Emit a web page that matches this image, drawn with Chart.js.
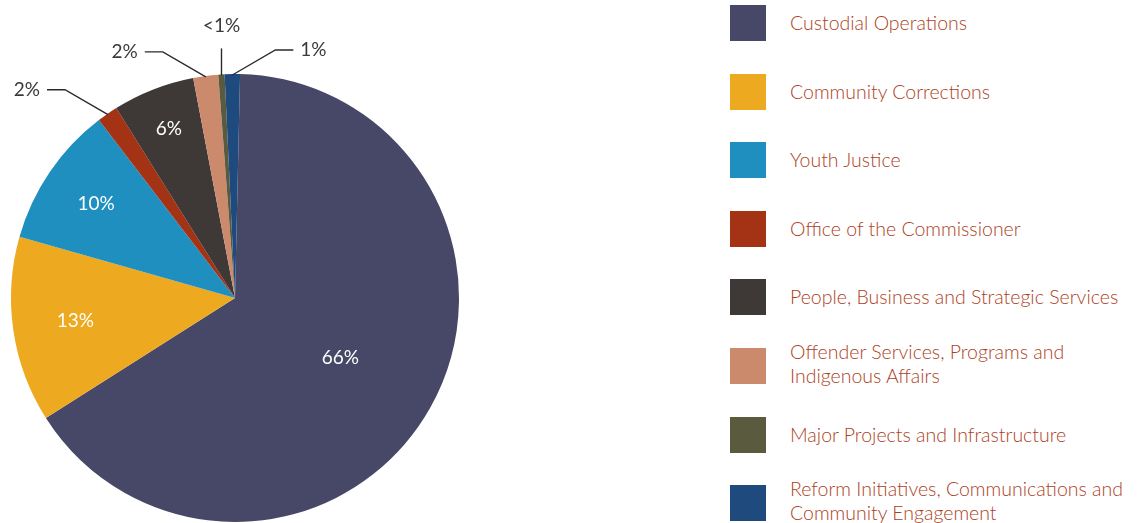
<!DOCTYPE html>
<html>
<head>
<meta charset="utf-8">
<script src="https://cdn.jsdelivr.net/npm/chart.js@4"></script>
<style>
  body { margin: 0; background: #fff; width: 1140px; height: 523px; overflow: hidden; position: relative; }
  #wrap { position: absolute; left: 0; top: 0; width: 470px; height: 523px; }
  #legend { position: absolute; left: 730px; top: 0; }
  .item { position: absolute; left: 0; width: 410px; height: 36px; }
  .sw { position: absolute; left: 0; top: 0; width: 36px; height: 36px; }
  .txt { position: absolute; left: 60px; top: 50%; transform: translateY(-50%);
         font-family: Lato, "Open Sans", sans-serif; font-weight: 300; font-size: 19.5px;
         line-height: 23.5px; color: #ad3f25; white-space: nowrap; }
  .two { margin-top: -3px; }
</style>
</head>
<body>
<div id="wrap"><canvas id="pie"></canvas></div>
<div id="legend"></div>
<script>
// data
var categories = [
  'Custodial Operations',
  'Community Corrections',
  'Youth Justice',
  'Office of the Commissioner',
  'People, Business and Strategic Services',
  'Offender Services, Programs and\nIndigenous Affairs',
  'Major Projects and Infrastructure',
  'Reform Initiatives, Communications and\nCommunity Engagement'
];
var shares = [65.6, 13.4, 10.2, 1.5, 5.9, 1.8, 0.45, 1.1];
var shareLabels = ['66%', '13%', '10%', '2%', '6%', '2%', '<1%', '1%'];

var colours = ['#474867', '#eda91f', '#1f8fc0', '#a43215', '#3e3936', '#cc8a6c', '#5a5a3e', '#1f4a7e'];

// where each value label goes: inside at a fraction of the radius, or out on a leader line
var labelPlace = [
  { pos: 'in', f: 0.54 },
  { pos: 'in', f: 0.72 },
  { pos: 'in', f: 0.75 },
  { pos: 'left' },
  { pos: 'in', f: 0.81 },
  { pos: 'left' },
  { pos: 'up' },
  { pos: 'right' }
];

var labelFont = '400 19px Lato, "Open Sans", sans-serif';

// legend built from the same arrays
var legend = document.getElementById('legend');
categories.forEach(function(name, i) {
  var item = document.createElement('div');
  item.className = 'item';
  item.style.top = (5 + i * 68.6) + 'px';
  var sw = document.createElement('div');
  sw.className = 'sw';
  sw.style.background = colours[i];
  var txt = document.createElement('div');
  txt.className = name.indexOf('\n') >= 0 ? 'txt two' : 'txt';
  txt.innerHTML = name.split('\n').join('<br>');
  item.appendChild(sw);
  item.appendChild(txt);
  legend.appendChild(item);
});

var sliceLabels = {
  id: 'sliceLabels',
  afterDatasetsDraw: function(chart) {
    var ctx = chart.ctx;
    var meta = chart.getDatasetMeta(0);
    ctx.save();
    ctx.font = labelFont;
    ctx.textBaseline = 'middle';
    meta.data.forEach(function(arc, i) {
      var p = arc.getProps(['x', 'y', 'startAngle', 'endAngle', 'outerRadius'], true);
      var mid = (p.startAngle + p.endAngle) / 2;
      var place = labelPlace[i];
      var text = shareLabels[i];
      if (place.pos === 'in') {
        ctx.fillStyle = '#ffffff';
        ctx.textAlign = 'center';
        ctx.fillText(text, p.x + Math.cos(mid) * p.outerRadius * place.f,
                           p.y + Math.sin(mid) * p.outerRadius * place.f);
        return;
      }
      var sx = p.x + Math.cos(mid) * (p.outerRadius - 1);
      var sy = p.y + Math.sin(mid) * (p.outerRadius - 1);
      ctx.strokeStyle = '#2a2a2a';
      ctx.lineWidth = 1.4;
      ctx.fillStyle = '#3a3a3a';
      ctx.beginPath();
      ctx.moveTo(sx, sy);
      if (place.pos === 'up') {
        ctx.lineTo(sx, sy - 27);
        ctx.stroke();
        ctx.textAlign = 'center';
        ctx.fillText(text, sx, sy - 50);
      } else {
        var dir = place.pos === 'left' ? -1 : 1;
        var ex = sx + dir * 43, ey = sy - 25;
        ctx.lineTo(ex, ey);
        ctx.lineTo(ex + dir * 18, ey);
        ctx.stroke();
        ctx.textAlign = place.pos === 'left' ? 'right' : 'left';
        ctx.fillText(text, ex + dir * 25, ey);
      }
    });
    ctx.restore();
  }
};

new Chart(document.getElementById('pie'), {
  type: 'pie',
  data: {
    labels: categories,
    datasets: [{
      data: shares,
      backgroundColor: colours,
      borderWidth: 0
    }]
  },
  options: {
    responsive: true,
    maintainAspectRatio: false,
    animation: false,
    rotation: 1.3,
    layout: { padding: { top: 74, bottom: 1, left: 11, right: 11 } },
    plugins: {
      legend: { display: false },
      tooltip: { enabled: false }
    }
  },
  plugins: [sliceLabels]
});
</script>
</body>
</html>
